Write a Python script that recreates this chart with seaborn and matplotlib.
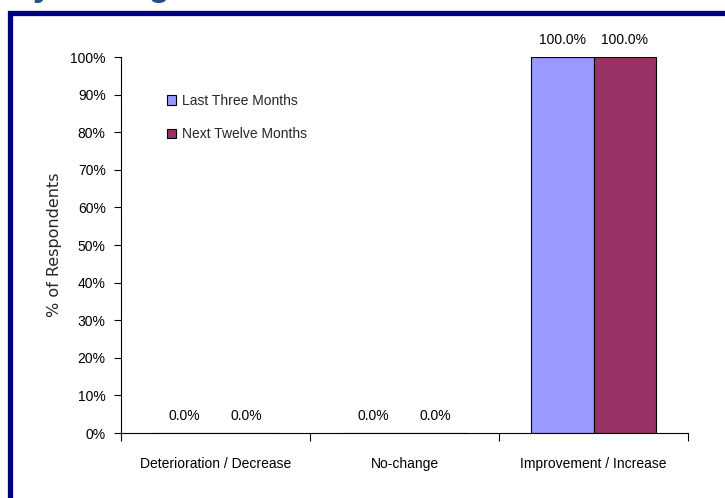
import matplotlib
matplotlib.use("Agg")
import matplotlib.pyplot as plt
from matplotlib.patches import Rectangle
from matplotlib.ticker import FixedLocator
import seaborn as sns
import pandas as pd

categories = ["Deterioration / Decrease", "No-change", "Improvement / Increase"]
series_names = ["Last Three Months", "Next Twelve Months"]
last_three = [0.0, 0.0, 100.0]
next_twelve = [0.0, 0.0, 100.0]
y_ticks = [0, 10, 20, 30, 40, 50, 60, 70, 80, 90, 100]
y_tick_labels = [f"{v}%" for v in y_ticks]
colors = ["#9999FF", "#993366"]

df = pd.DataFrame({
    "category": categories * 2,
    "series": [series_names[0]] * 3 + [series_names[1]] * 3,
    "value": last_three + next_twelve,
})

sns.set_style("white")
plt.rcParams["font.family"] = ["Liberation Sans", "DejaVu Sans"]
FS = 10

W, H = 725, 498
fig = plt.figure(figsize=(W / 100, H / 100), dpi=100)
fig.patch.set_facecolor("white")

ax = fig.add_axes([121 / W, 1 - 433 / H, (688 - 121) / W, (433 - 57) / H])
sns.barplot(data=df, x="category", y="value", hue="series", order=categories,
            hue_order=series_names, palette=colors, width=0.66, gap=0,
            edgecolor="black", linewidth=0.8, saturation=1, ax=ax)

for cont in ax.containers:
    ax.bar_label(cont, fmt="%.1f%%", padding=7, fontsize=FS, color="black")

ax.set_ylim(0, 100)
ax.set_xlim(-0.5, 2.5)
ax.set_yticks(y_ticks)
ax.set_yticklabels(y_tick_labels, fontsize=FS)
ax.set_xticks(range(len(categories)))
ax.set_xticklabels(categories, fontsize=FS)
ax.xaxis.set_minor_locator(FixedLocator([-0.5, 0.5, 1.5, 2.5]))
ax.tick_params(axis="x", which="major", length=0, pad=17, colors="black")
ax.tick_params(axis="x", which="minor", length=6, width=0.8, direction="out", color="black", bottom=True)
ax.tick_params(axis="y", which="major", length=5, width=0.8, direction="out", pad=6, left=True, colors="black")

for s in ["top", "right"]:
    ax.spines[s].set_visible(False)
for s in ["left", "bottom"]:
    ax.spines[s].set_color("black")
    ax.spines[s].set_linewidth(0.8)

ax.set_xlabel("")
ax.set_ylabel("% of Respondents", fontsize=11.5, family=["DejaVu Sans"])
ax.yaxis.set_label_coords(-(121 - 62) / 567, 0.5)

leg = ax.legend(loc="upper left", bbox_to_anchor=(167 / W, 1 - 94 / H),
                bbox_transform=fig.transFigure, frameon=False, fontsize=FS,
                handlelength=0.65, handleheight=0.65, handletextpad=0.4,
                labelspacing=1.38, borderpad=0, borderaxespad=0)
for h in leg.legend_handles:
    h.set_edgecolor("black")
    h.set_linewidth(0.8)

# navy frame around the chart area (extends beyond the image)
fig.add_artist(Rectangle((9.5 / W, -0.5), 2.0, 1.5 - 13.5 / H,
                         transform=fig.transFigure, fill=False,
                         edgecolor="#000080", linewidth=3.8))

# clipped title text at the very top
fig.text(33 / W, 1 + 4 / H, "y Change", fontsize=25, fontweight="bold",
         color="#1F4E8A", ha="left", va="baseline")

fig.savefig("out.png", dpi=100)
